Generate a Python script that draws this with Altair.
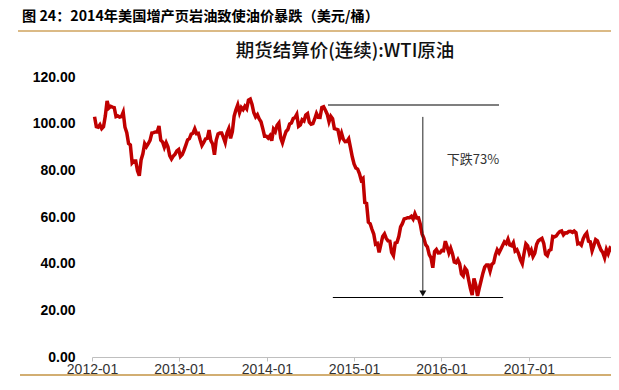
import altair as alt
import pandas as pd

# ---- weekly WTI settlement prices (USD/bbl), one value per Friday ----
prices_2012 = [102.96, 98.70, 98.46, 99.56,
               97.84, 98.67, 103.24, 109.77,
               106.70, 107.40, 107.06, 106.87, 103.02,
               103.31, 102.83, 103.05, 104.93,
               98.49, 96.13, 91.48, 90.86,
               83.23, 84.10, 84.03, 79.76, 77.69,
               84.45, 87.10, 91.44, 90.13,
               91.40, 92.87, 96.01, 96.15, 96.47,
               96.42, 99.00, 92.89, 92.19,
               89.88, 91.86, 90.05, 86.28,
               84.86, 86.07, 86.92, 88.28, 88.91,
               85.93, 86.73, 88.66, 90.80]
prices_2013 = [93.09, 93.56, 95.56, 95.88,
               97.77, 95.72, 95.86, 93.13,
               90.68, 91.95, 93.45, 93.71, 97.23,
               92.70, 91.29, 86.68, 93.00,
               95.61, 96.04, 96.02, 94.15, 91.97,
               96.03, 97.85, 93.69, 96.56,
               103.22, 105.95, 108.05, 104.70,
               106.94, 106.03, 107.46, 106.42, 110.10,
               110.53, 108.21, 104.67, 102.87,
               103.84, 102.02, 100.81, 97.85,
               94.61, 94.60, 93.84, 94.84, 92.72,
               97.65, 96.60, 99.32, 100.32]
prices_2014 = [93.96, 91.80, 94.37, 96.64, 97.49,
               99.88, 100.30, 102.20, 102.59,
               104.00, 98.89, 99.46, 101.67,
               101.14, 103.74, 104.30, 100.60,
               99.76, 99.99, 102.02, 104.35, 102.71,
               102.66, 106.91, 107.26, 105.74,
               104.06, 100.83, 103.13, 102.09,
               97.88, 97.65, 97.35, 93.65, 95.96,
               93.29, 92.27, 92.41, 93.54,
               89.74, 85.82, 82.75, 81.01, 80.54,
               78.65, 75.82, 76.51, 66.15,
               65.84, 57.81, 57.13, 54.73]
prices_2015 = [52.69, 48.36, 48.69, 44.80, 48.24,
               51.69, 52.78, 50.81, 49.76,
               49.61, 44.84, 43.46, 48.87,
               49.14, 51.64, 55.74, 57.15,
               59.15, 59.39, 59.69, 59.72, 60.30,
               59.13, 61.43, 59.61, 59.63,
               56.93, 52.74, 50.89, 48.14, 47.12,
               43.87, 42.50, 38.24, 45.22,
               46.05, 44.63, 44.68, 45.70,
               45.54, 49.63, 47.26, 44.60, 46.59,
               44.29, 40.74, 40.39, 41.71,
               39.97, 35.62, 34.73, 38.10]
prices_2016 = [37.04, 33.16, 29.42, 26.55, 33.62,
               30.89, 26.21, 29.64, 32.78,
               35.92, 38.50, 39.44, 39.46,
               36.79, 39.72, 40.36, 43.73, 45.92,
               44.66, 46.21, 47.75, 49.33,
               48.62, 50.50, 47.98, 47.64,
               48.99, 45.41, 45.95, 44.19, 41.60,
               40.00, 44.49, 48.52, 47.64,
               44.44, 45.88, 43.03, 44.48, 48.24,
               49.81, 50.35, 50.85, 48.70,
               44.07, 43.41, 45.69, 46.06,
               51.68, 51.50, 51.90, 53.02, 53.72]
prices_2017 = [53.99, 52.37, 53.22, 53.17,
               53.83, 53.86, 53.40, 53.99,
               53.33, 48.49, 48.78, 47.97, 50.60,
               52.24, 53.18, 49.62, 49.33,
               45.52, 47.84, 50.33, 49.80,
               47.66, 45.83, 44.74, 42.53, 46.04,
               44.23, 46.54, 45.77, 49.71,
               49.58, 48.82]

yearly = [(2012, prices_2012), (2013, prices_2013), (2014, prices_2014),
          (2015, prices_2015), (2016, prices_2016), (2017, prices_2017)]

# ---- axis ticks (Wind-style evenly spaced labels) ----
tick_dates = [(2011, 12, 27), (2012, 12, 3), (2013, 11, 10),
              (2014, 10, 17), (2015, 9, 24), (2016, 8, 31)]
tick_labels = ["2012-01", "2013-01", "2014-01", "2015-01", "2016-01", "2017-01"]
y_ticks = [0, 20, 40, 60, 80, 100, 120]

# ---- annotation values ----
level_top = 108.0
level_bottom = 25.5
top_line_dates = ["2014-07-07", "2016-05-06"]
bottom_line_dates = ["2014-07-26", "2016-05-22"]
arrow_date = "2015-07-13"
arrow_from = 102.9
arrow_head = 27.2
note_date = "2015-10-15"
note_value = 84.4
note_text = "下跌73%"

main_title = "图 24：2014年美国增产页岩油致使油价暴跌（美元/桶）"
chart_title = "期货结算价(连续):WTI原油"

rows = []
for yr, vals in yearly:
    fridays = pd.date_range(f"{yr}-01-01", f"{yr}-12-31", freq="W-FRI")
    for d, v in zip(fridays, vals):
        rows.append({"date": d.strftime("%Y-%m-%d"), "price": v})
df = pd.DataFrame(rows)

x_scale = alt.Scale(domain=[alt.DateTime(year=2011, month=12, date=27),
                            alt.DateTime(year=2017, month=7, date=18)], nice=False)
y_scale = alt.Scale(domain=[0, 120], nice=False)

label_array = "[" + ",".join("'" + s + "'" for s in tick_labels) + "]"
x_axis = alt.Axis(
    values=[alt.DateTime(year=a, month=b, date=c) for a, b, c in tick_dates],
    labelExpr=label_array + "[round((datum.value - datetime(2011, 11, 27)) / (342 * 86400000))]",
    title=None, grid=False, domainColor="#BFBFBF", tickColor="#BFBFBF", tickSize=4,
    labelFontSize=14, labelFont="Liberation Sans", labelColor="#333333",
    labelPadding=1, labelFlush=False, labelOverlap=False)
y_axis = alt.Axis(values=y_ticks, format=".2f", title=None, grid=False, domain=False,
                  ticks=False, tickSize=0, labelPadding=17, labelFontSize=14,
                  labelFontWeight="bold", labelFont="Liberation Sans", labelColor="#000000")

line = alt.Chart(df).mark_line(color="#C00000", strokeWidth=3.5).encode(
    x=alt.X("date:T", scale=x_scale, axis=x_axis),
    y=alt.Y("price:Q", scale=y_scale, axis=y_axis))

hl_df = pd.DataFrame({"start": [top_line_dates[0], bottom_line_dates[0]],
                      "end": [top_line_dates[1], bottom_line_dates[1]],
                      "level": [level_top, level_bottom]})
hlines = alt.Chart(hl_df).mark_rule(color="#000000", strokeWidth=1.2).encode(
    x=alt.X("start:T", scale=x_scale, axis=x_axis), x2="end:T",
    y=alt.Y("level:Q", scale=y_scale, axis=y_axis))

arr_df = pd.DataFrame({"date": [arrow_date], "top": [arrow_from], "head": [arrow_head]})
arrow = alt.Chart(arr_df).mark_rule(color="#222222", strokeWidth=1).encode(
    x=alt.X("date:T", scale=x_scale, axis=x_axis),
    y=alt.Y("top:Q", scale=y_scale, axis=y_axis), y2="head:Q")
head = alt.Chart(arr_df).mark_point(shape="triangle-down", filled=True, size=49,
                                    color="#111111", opacity=1).encode(
    x=alt.X("date:T", scale=x_scale, axis=x_axis),
    y=alt.Y("head:Q", scale=y_scale, axis=y_axis))

note_df = pd.DataFrame({"date": [note_date], "v": [note_value], "t": [note_text]})
note = alt.Chart(note_df).mark_text(align="left", baseline="middle", fontSize=13,
                                    font="Noto Sans CJK SC", color="#333333").encode(
    x=alt.X("date:T", scale=x_scale, axis=x_axis),
    y=alt.Y("v:Q", scale=y_scale, axis=y_axis), text="t:N")

one = pd.DataFrame({"k": [0]})
t1 = alt.Chart(one).mark_text(text=main_title, align="left", baseline="middle",
                              font="Noto Sans CJK SC", fontSize=14.2, fontWeight="bold",
                              color="#000000").encode(x=alt.value(-70), y=alt.value(-60))
t2 = alt.Chart(one).mark_text(text=chart_title, align="center", baseline="middle",
                              font="Noto Sans CJK SC", fontSize=18.5, fontWeight=500,
                              color="#111111").encode(x=alt.value(253), y=alt.value(-26))
gold_top = alt.Chart(one).mark_rule(color="#CFA35E", strokeWidth=1.5).encode(
    x=alt.value(-74), x2=alt.value(519), y=alt.value(-46))
gold_bottom = alt.Chart(one).mark_rule(color="#D2AE72", strokeWidth=2).encode(
    x=alt.value(-72), x2=alt.value(519), y=alt.value(298))

chart = alt.layer(line, hlines, arrow, head, note, t1, t2, gold_top, gold_bottom).properties(
    width=519, height=280,
    padding={"left": 84, "top": 69, "right": 0, "bottom": 19},
    autosize=alt.AutoSizeParams(type="none"),
    background="white",
).configure_view(stroke=None)

chart.save("out.html", embed_options={"renderer": "svg", "actions": False})
